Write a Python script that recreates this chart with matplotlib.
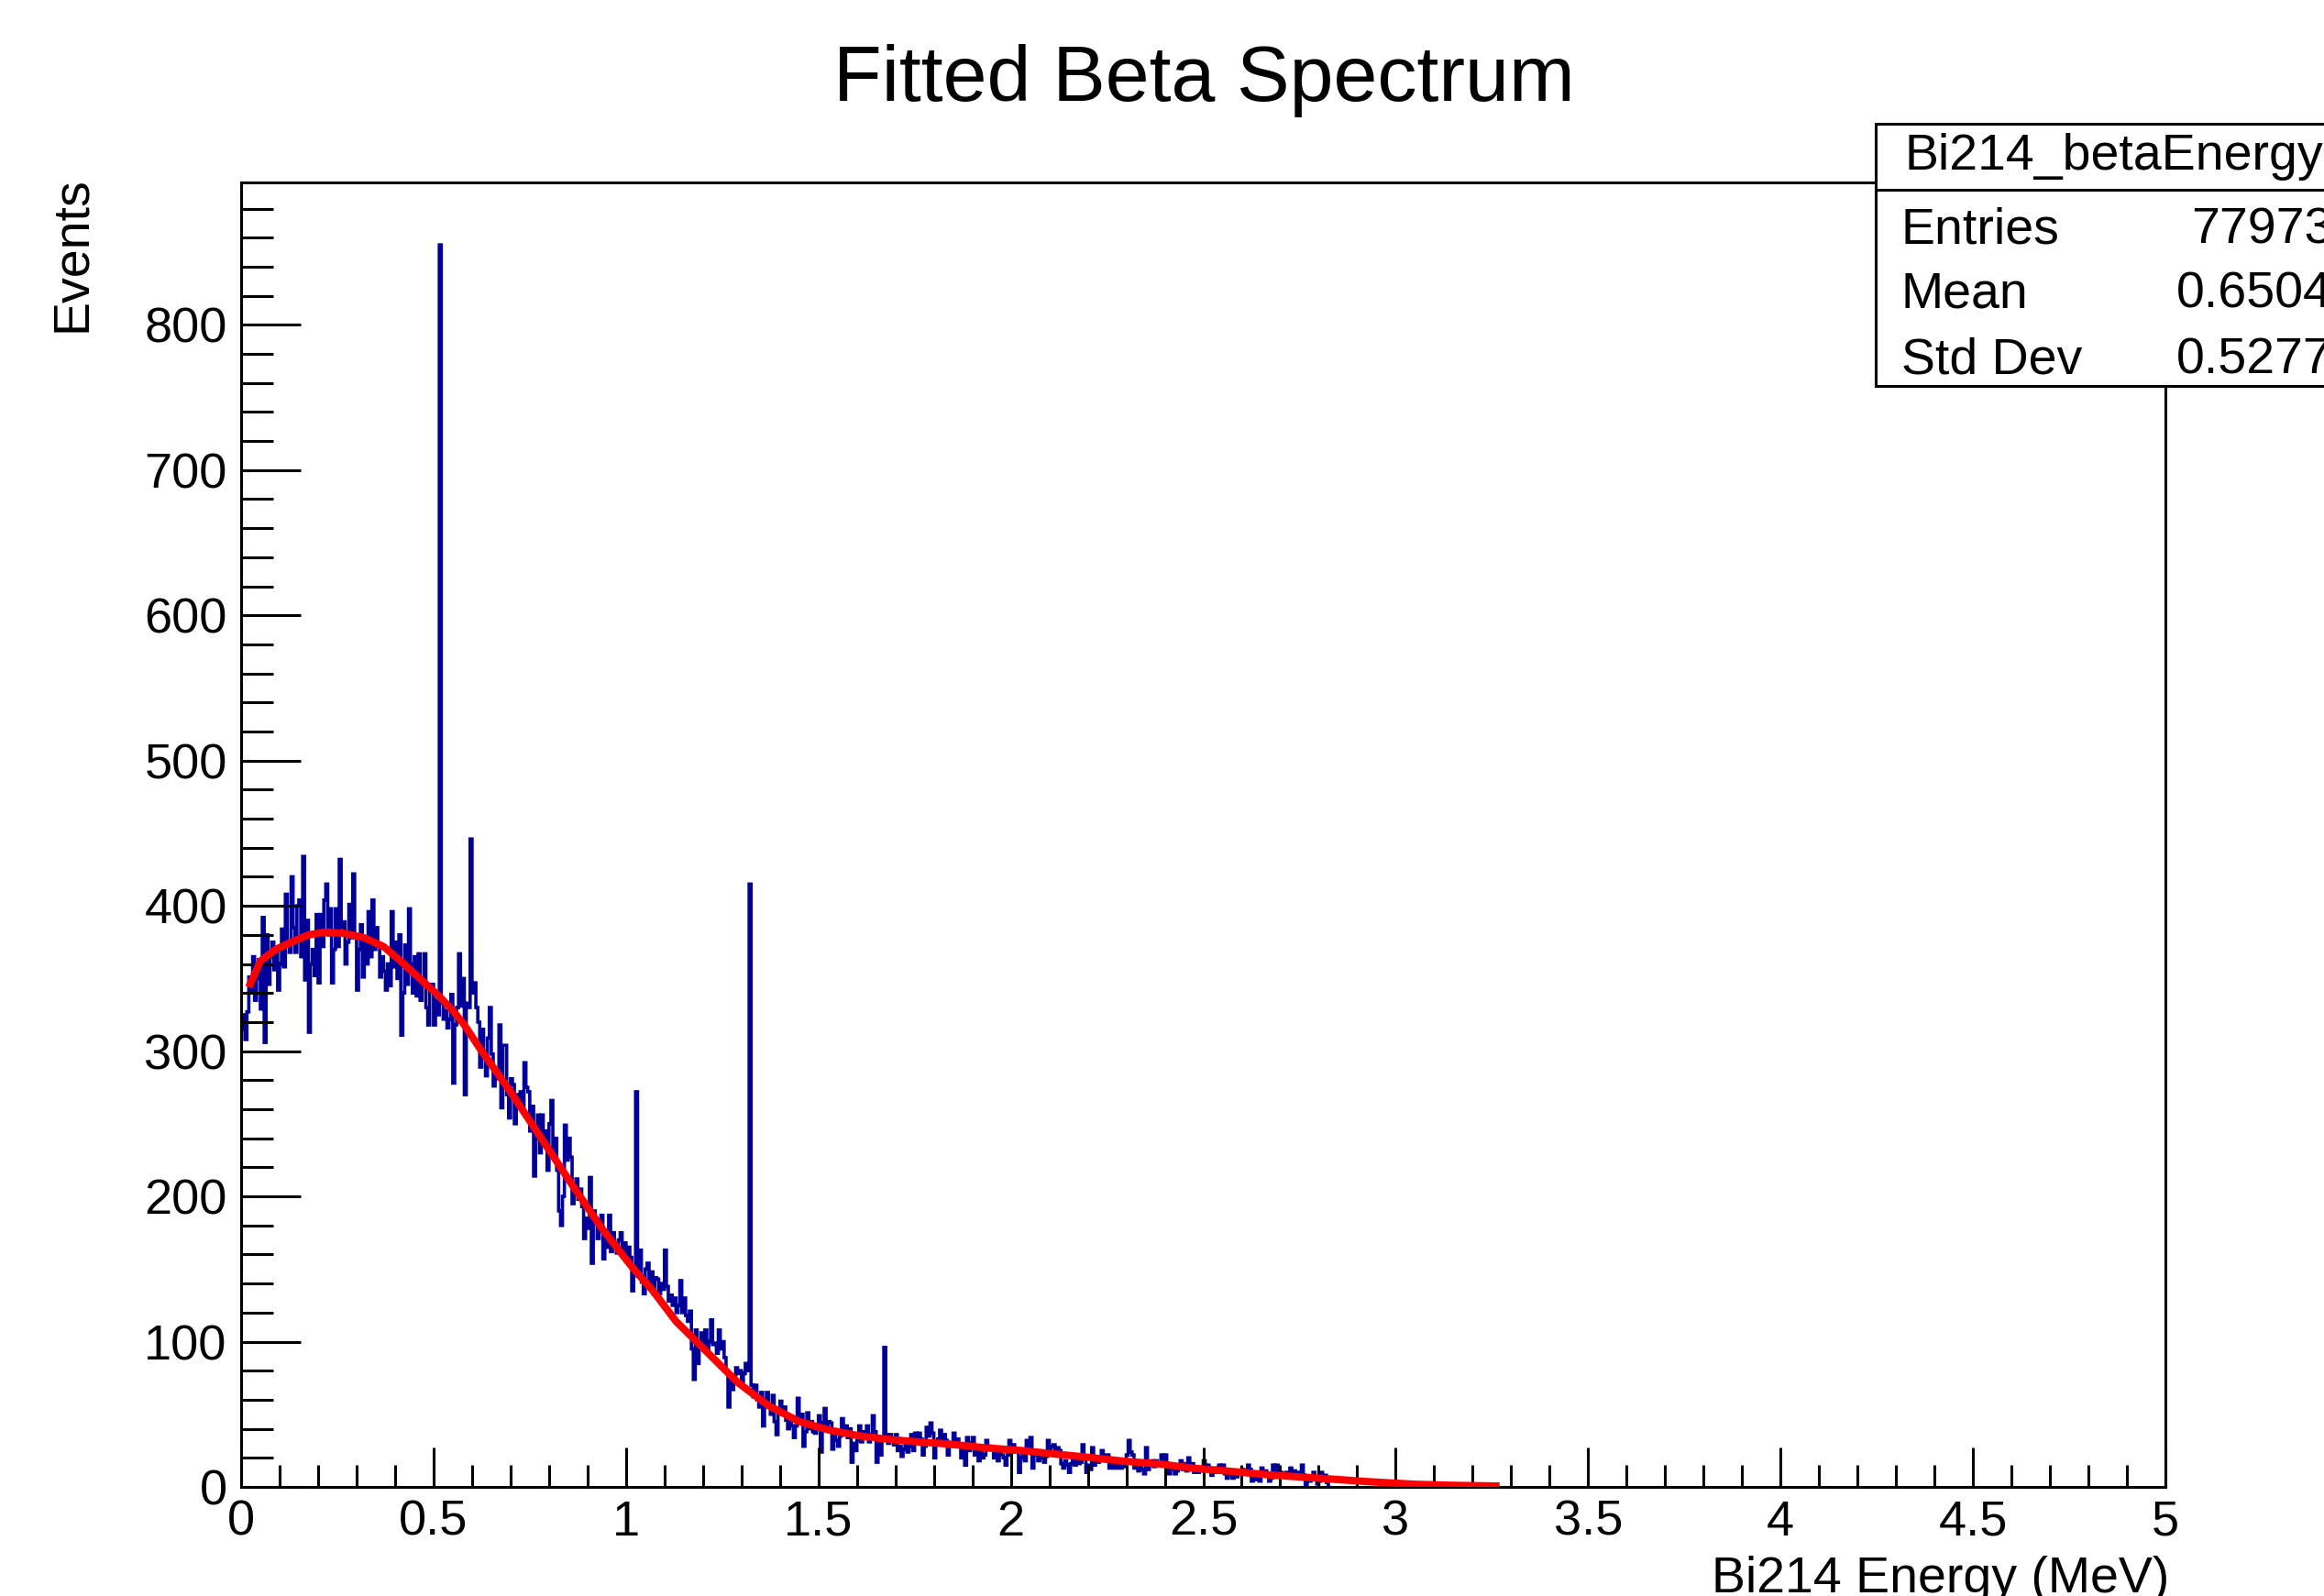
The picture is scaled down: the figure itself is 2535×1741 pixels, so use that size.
import numpy as np
import matplotlib
matplotlib.use('Agg')
import matplotlib.pyplot as plt
from matplotlib.patches import Rectangle
from matplotlib.lines import Line2D
from matplotlib.ticker import MultipleLocator, FormatStrFormatter

plt.rcParams['font.family'] = ['Liberation Sans', 'DejaVu Sans']

W, H = 2535, 1741

# histogram: 0.005 MeV bins starting at 0
bin_width = 0.005
counts = [
    315, 325, 308, 327, 351, 340, 365, 335, 350, 363,
    329, 392, 306, 380, 346, 365, 375, 356, 370, 342,
    360, 384, 358, 408, 375, 368, 420, 385, 368, 400,
    404, 365, 434, 349, 390, 313, 360, 370, 352, 394,
    347, 394, 372, 404, 415, 380, 398, 347, 370, 398,
    372, 432, 385, 389, 360, 375, 401, 378, 422, 380,
    342, 370, 387, 351, 375, 360, 396, 365, 404, 370,
    385, 373, 351, 365, 355, 342, 360, 345, 396, 358,
    375, 350, 380, 311, 340, 373, 346, 398, 360, 340,
    365, 338, 367, 335, 350, 367, 330, 318, 345, 346,
    318, 335, 325, 855, 333, 322, 328, 316, 322, 339,
    278, 318, 330, 367, 331, 350, 270, 333, 330, 446,
    340, 347, 330, 320, 289, 315, 300, 283, 309, 330,
    298, 276, 288, 281, 318, 261, 304, 304, 270, 254,
    281, 277, 250, 270, 262, 272, 260, 292, 275, 272,
    245, 262, 214, 240, 256, 230, 256, 235, 245, 218,
    250, 266, 230, 240, 218, 190, 180, 200, 249, 225,
    240, 227, 195, 205, 212, 198, 205, 193, 171, 185,
    178, 213, 154, 190, 184, 171, 180, 187, 157, 175,
    165, 187, 162, 175, 165, 161, 170, 175, 160, 168,
    155, 165, 158, 135, 150, 272, 145, 163, 141, 133,
    150, 154, 140, 148, 133, 144, 143, 133, 140, 136,
    163, 138, 128, 132, 125, 130, 120, 125, 142, 120,
    130, 118, 114, 121, 95, 74, 108, 85, 100, 106,
    98, 108, 94, 100, 115, 98, 99, 92, 108, 95,
    100, 89, 80, 55, 75, 67, 72, 82, 78, 80,
    70, 78, 85, 80, 415, 70, 62, 70, 60, 55,
    65, 42, 60, 65, 55, 50, 63, 45, 36, 52,
    59, 50, 55, 46, 40, 46, 42, 34, 42, 61,
    45, 50, 28, 38, 51, 40, 45, 38, 37, 42,
    49, 24, 44, 54, 40, 45, 44, 26, 38, 32,
    28, 35, 47, 38, 42, 34, 40, 17, 30, 25,
    32, 42, 31, 38, 35, 42, 31, 36, 49, 38,
    17, 30, 22, 33, 96, 36, 30, 36, 33, 29,
    36, 25, 28, 21, 26, 30, 24, 28, 36, 25,
    37, 30, 37, 33, 22, 28, 41, 35, 44, 37,
    20, 30, 33, 39, 32, 36, 32, 22, 28, 28,
    37, 30, 33, 28, 20, 25, 15, 34, 25, 30,
    34, 22, 25, 18, 24, 20, 22, 32, 26, 28,
    27, 20, 24, 18, 25, 22, 20, 15, 22, 32,
    25, 29, 24, 26, 10, 20, 22, 18, 32, 26,
    34, 13, 25, 22, 18, 22, 20, 17, 21, 32,
    25, 28, 29, 25, 27, 25, 16, 13, 18, 15,
    10, 16, 18, 15, 18, 16, 17, 29, 20, 10,
    15, 12, 27, 15, 20, 17, 18, 25, 20, 22,
    22, 13, 18, 13, 16, 13, 15, 13, 14, 16,
    22, 32, 24, 22, 13, 15, 11, 14, 12, 9,
    27, 12, 15, 18, 14, 18, 15, 17, 22, 18,
    22, 15, 9, 15, 12, 9, 11, 14, 18, 12,
    16, 11, 20, 14, 16, 10, 13, 10, 12, 11,
    18, 12, 15, 13, 8, 12, 10, 13, 15, 11,
    15, 9, 6, 10, 8, 6, 9, 7, 11, 9,
    12, 10, 11, 15, 12, 4, 7, 5, 8, 4,
    13, 9, 11, 8, 4, 6, 15, 10, 15, 9,
    10, 7, 9, 10, 8, 13, 9, 11, 8, 10,
    7, 15, 8, 1, 5, 4, 6, 10, 6, 2,
    4, 10, 6, 8, 3,
]

# fitted curve, points
fit_x = [0.02, 0.05, 0.09, 0.13, 0.175, 0.22, 0.27, 0.32, 0.37, 0.41, 0.46, 0.51,
         0.55, 0.58, 0.62, 0.70, 0.78, 0.86, 0.94, 1.02, 1.07, 1.13, 1.21, 1.29,
         1.37, 1.45, 1.53, 1.61, 1.69, 1.76, 1.84, 1.93, 2.03, 2.12, 2.20, 2.29,
         2.39, 2.47, 2.56, 2.67, 2.80, 2.93, 3.05, 3.15, 3.27]
fit_y = [344, 362, 370, 375, 380, 382, 381, 378, 372, 363, 351, 339,
         328, 318, 302, 272, 240, 208, 177, 150, 135, 114, 93, 72,
         56, 45, 39, 35, 32.5, 31, 29.5, 27, 25, 22.5, 20.4, 17.8,
         15.7, 13, 11, 8.3, 6.0, 3.6, 1.8, 1.1, 0.6]

stat_names = ['Entries', 'Mean', 'Std Dev']
stat_values = ['77973', '0.6504', '0.5277']
hist_name = 'Bi214_betaEnergy'

fig = plt.figure(figsize=(W / 100, H / 100), dpi=100)
ax = fig.add_axes([263 / W, 1 - 1622 / H, (2362 - 263) / W, (1622 - 199) / H])

vals = np.array(counts + [0], dtype=float)
edges = np.arange(len(vals) + 1) * bin_width
ax.stairs(vals, edges, baseline=None, color='#000099', lw=2.6)
ax.plot(fit_x, fit_y, color='#ff0000', lw=5.8, zorder=3, solid_capstyle='butt')

ax.set_xlim(0, 5)
ax.set_ylim(0, 898)
ax.xaxis.set_major_locator(MultipleLocator(0.5))
ax.xaxis.set_minor_locator(MultipleLocator(0.1))
ax.yaxis.set_major_locator(MultipleLocator(100))
ax.yaxis.set_minor_locator(MultipleLocator(20))
ax.xaxis.set_major_formatter(FormatStrFormatter('%g'))
ax.yaxis.set_major_formatter(FormatStrFormatter('%g'))

ax.tick_params(axis='x', which='major', direction='in', length=31, width=2.2,
               labelsize=39, pad=10, top=False)
ax.tick_params(axis='x', which='minor', direction='in', length=17.3, width=2.2, top=False)
ax.tick_params(axis='y', which='major', direction='in', length=47, width=2.2,
               labelsize=39, pad=11, right=False)
ax.tick_params(axis='y', which='minor', direction='in', length=25, width=2.2, right=False)
for s in ax.spines.values():
    s.set_linewidth(2.2)

# titles
fig.text(1313 / W, 1 - 110 / H, 'Fitted Beta Spectrum', ha='center', va='baseline', fontsize=62)
fig.text(2366 / W, 1 - 1737 / H, 'Bi214 Energy (MeV)', ha='right', va='baseline', fontsize=40)
fig.text(105 / W, 1 - 192 / H, 'Events', rotation=90, ha='right', va='top', fontsize=40)

# stats box
box = Rectangle((2046 / W, 1 - 421 / H), (2800 - 2046) / W, (421 - 135) / H,
                transform=fig.transFigure, facecolor='white', edgecolor='black',
                lw=2.2, zorder=5)
fig.patches.append(box)
fig.lines.append(Line2D([2046 / W, 1.0], [1 - 207 / H, 1 - 207 / H],
                        transform=fig.transFigure, color='black', lw=2.2, zorder=6))
fig.text(2078 / W, 1 - 185 / H, hist_name, ha='left', va='baseline', fontsize=40, zorder=7)
for i, (nm, v) in enumerate(zip(stat_names, stat_values)):
    yb = 1 - [265, 335, 407][i] / H
    fig.text(2074 / W, yb, nm, ha='left', va='baseline', fontsize=40, zorder=7)
    fig.text(2544 / W, yb, v, ha='right', va='baseline', fontsize=40, zorder=7)

fig.savefig('out.png', dpi=100)
